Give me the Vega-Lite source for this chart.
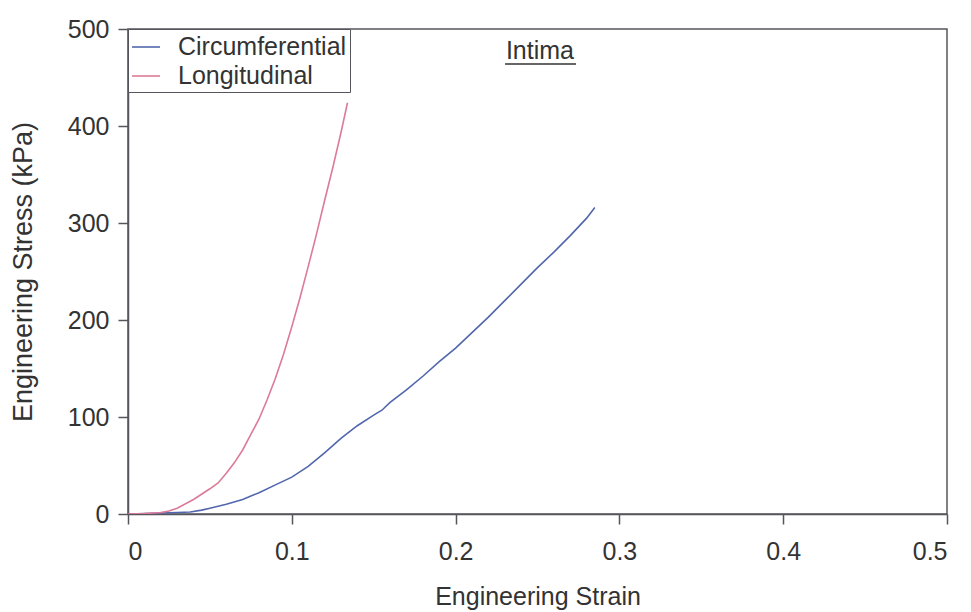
{
  "$schema": "https://vega.github.io/schema/vega-lite/v6.json",
  "width": 819,
  "height": 485,
  "autosize": {"type": "none"},
  "padding": {"left": 128, "top": 29, "right": 24, "bottom": 98},
  "background": "white",
  "config": {
    "font": "Liberation Sans",
    "view": {"stroke": "#55555c", "strokeWidth": 1.5},
    "axis": {
      "grid": false,
      "domainColor": "#55555c",
      "domainWidth": 1.5,
      "tickColor": "#55555c",
      "tickWidth": 1.5,
      "tickSize": 10,
      "labelFontSize": 25,
      "labelColor": "#333333",
      "titleFontSize": 25,
      "titleFontWeight": "normal",
      "titleColor": "#333333"
    }
  },
  "data": {
    "values": [
      {"direction": "Circumferential", "strain": 0, "stress": 0},
      {"direction": "Circumferential", "strain": 0.01, "stress": 0.5},
      {"direction": "Circumferential", "strain": 0.02, "stress": 1},
      {"direction": "Circumferential", "strain": 0.03, "stress": 1.5},
      {"direction": "Circumferential", "strain": 0.038, "stress": 2},
      {"direction": "Circumferential", "strain": 0.045, "stress": 4},
      {"direction": "Circumferential", "strain": 0.05, "stress": 6},
      {"direction": "Circumferential", "strain": 0.06, "stress": 10},
      {"direction": "Circumferential", "strain": 0.07, "stress": 15},
      {"direction": "Circumferential", "strain": 0.08, "stress": 22},
      {"direction": "Circumferential", "strain": 0.09, "stress": 30},
      {"direction": "Circumferential", "strain": 0.1, "stress": 38},
      {"direction": "Circumferential", "strain": 0.11, "stress": 49},
      {"direction": "Circumferential", "strain": 0.12, "stress": 63},
      {"direction": "Circumferential", "strain": 0.13, "stress": 78},
      {"direction": "Circumferential", "strain": 0.14, "stress": 91},
      {"direction": "Circumferential", "strain": 0.15, "stress": 102},
      {"direction": "Circumferential", "strain": 0.155, "stress": 107},
      {"direction": "Circumferential", "strain": 0.16, "stress": 115},
      {"direction": "Circumferential", "strain": 0.17, "stress": 128},
      {"direction": "Circumferential", "strain": 0.18, "stress": 142},
      {"direction": "Circumferential", "strain": 0.19, "stress": 157},
      {"direction": "Circumferential", "strain": 0.2, "stress": 171},
      {"direction": "Circumferential", "strain": 0.21, "stress": 187},
      {"direction": "Circumferential", "strain": 0.22, "stress": 203},
      {"direction": "Circumferential", "strain": 0.23, "stress": 220},
      {"direction": "Circumferential", "strain": 0.24, "stress": 237},
      {"direction": "Circumferential", "strain": 0.25, "stress": 254},
      {"direction": "Circumferential", "strain": 0.26, "stress": 270},
      {"direction": "Circumferential", "strain": 0.27, "stress": 287},
      {"direction": "Circumferential", "strain": 0.28, "stress": 305},
      {"direction": "Circumferential", "strain": 0.285, "stress": 316},
      {"direction": "Longitudinal", "strain": 0, "stress": 0},
      {"direction": "Longitudinal", "strain": 0.01, "stress": 0.5},
      {"direction": "Longitudinal", "strain": 0.02, "stress": 1.5},
      {"direction": "Longitudinal", "strain": 0.025, "stress": 3},
      {"direction": "Longitudinal", "strain": 0.03, "stress": 6},
      {"direction": "Longitudinal", "strain": 0.04, "stress": 15},
      {"direction": "Longitudinal", "strain": 0.05, "stress": 26},
      {"direction": "Longitudinal", "strain": 0.055, "stress": 32},
      {"direction": "Longitudinal", "strain": 0.06, "stress": 42},
      {"direction": "Longitudinal", "strain": 0.065, "stress": 53},
      {"direction": "Longitudinal", "strain": 0.07, "stress": 66},
      {"direction": "Longitudinal", "strain": 0.075, "stress": 82},
      {"direction": "Longitudinal", "strain": 0.08, "stress": 98},
      {"direction": "Longitudinal", "strain": 0.085, "stress": 118},
      {"direction": "Longitudinal", "strain": 0.09, "stress": 140},
      {"direction": "Longitudinal", "strain": 0.095, "stress": 165},
      {"direction": "Longitudinal", "strain": 0.1, "stress": 193},
      {"direction": "Longitudinal", "strain": 0.105, "stress": 223},
      {"direction": "Longitudinal", "strain": 0.11, "stress": 255},
      {"direction": "Longitudinal", "strain": 0.115, "stress": 288},
      {"direction": "Longitudinal", "strain": 0.12, "stress": 323},
      {"direction": "Longitudinal", "strain": 0.125, "stress": 357},
      {"direction": "Longitudinal", "strain": 0.13, "stress": 393},
      {"direction": "Longitudinal", "strain": 0.134, "stress": 424}
    ]
  },
  "layer": [
    {
      "mark": {"type": "line", "strokeWidth": 1.6, "clip": true},
      "encoding": {
        "x": {
          "field": "strain",
          "type": "quantitative",
          "scale": {"domain": [0, 0.5], "nice": false},
          "axis": {
            "title": "Engineering Strain",
            "values": [0, 0.1, 0.2, 0.3, 0.4, 0.5],
            "format": ".1~f",
            "labelPadding": 15,
            "titlePadding": 20
          }
        },
        "y": {
          "field": "stress",
          "type": "quantitative",
          "scale": {"domain": [0, 500], "nice": false},
          "axis": {
            "title": "Engineering Stress (kPa)",
            "values": [0, 100, 200, 300, 400, 500],
            "labelPadding": 9,
            "titlePadding": 30,
            "titleFontSize": 27
          }
        },
        "color": {
          "field": "direction",
          "type": "nominal",
          "scale": {
            "domain": ["Circumferential", "Longitudinal"],
            "range": ["#5266ad", "#dc7b97"]
          },
          "legend": {
            "title": null,
            "orient": "none",
            "legendX": 0,
            "legendY": 0,
            "fillColor": "white",
            "strokeColor": "#55555c",
            "padding": 3,
            "rowPadding": 1,
            "symbolType": "stroke",
            "symbolSize": 784,
            "symbolStrokeWidth": 1.6,
            "labelFontSize": 25,
            "labelLimit": 400,
            "labelColor": "#333333",
            "labelOffset": 17
          }
        }
      }
    },
    {
      "data": {"values": [{"label": "Intima"}]},
      "mark": {"type": "text", "fontSize": 25, "color": "#333333", "align": "center", "baseline": "middle"},
      "encoding": {
        "x": {"datum": 0.2515},
        "y": {"datum": 477},
        "text": {"field": "label"}
      }
    },
    {
      "data": {"values": [{"label": "Intima"}]},
      "mark": {"type": "rule", "color": "#333333", "strokeWidth": 1.5},
      "encoding": {
        "x": {"datum": 0.2302},
        "x2": {"datum": 0.2735},
        "y": {"datum": 464}
      }
    }
  ]
}
